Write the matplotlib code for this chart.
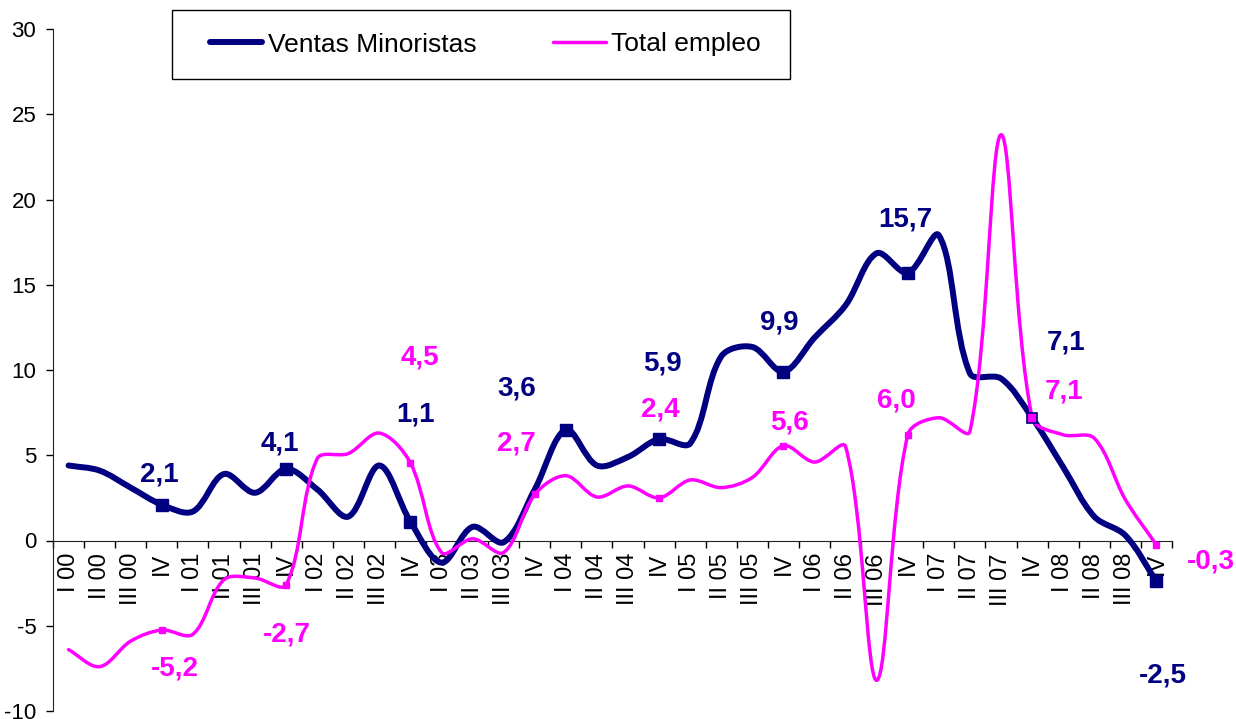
import numpy as np
import matplotlib
matplotlib.use("Agg")
import matplotlib.pyplot as plt
from matplotlib.path import Path
from matplotlib.patches import PathPatch, Rectangle
from matplotlib.lines import Line2D

plt.rcParams['font.family'] = ['Liberation Sans', 'DejaVu Sans']
plt.rcParams['axes.unicode_minus'] = False

# categorias trimestrales I 00 ... IV 08
years = ['00', '01', '02', '03', '04', '05', '06', '07', '08']
quarters = []
for yy in years:
    quarters += ['I ' + yy, 'II ' + yy, 'III ' + yy, 'IV']

ventas = [4.4, 4.1, 3.1, 2.1, 1.7, 3.9, 2.8, 4.2, 3.0, 1.4, 4.4, 1.1,
          -1.3, 0.8, -0.1, 3.0, 6.5, 4.4, 4.9, 5.95, 5.7, 10.8, 11.35, 9.9,
          11.9, 13.8, 16.85, 15.7, 17.9, 9.8, 9.5, 7.2, 4.3, 1.4, 0.3, -2.4]
empleo = [-6.4, -7.4, -5.9, -5.25, -5.5, -2.3, -2.2, -2.6, 4.8, 5.1, 6.3, 4.55,
          -0.7, 0.1, -0.7, 2.7, 3.8, 2.55, 3.2, 2.5, 3.55, 3.1, 3.7, 5.56,
          4.6, 5.5, -8.2, 6.2, 7.2, 6.4, 23.8, 7.2, 6.2, 6.0, 2.4, -0.26]

# etiquetas de datos (cuartos trimestres)
label_idx = [3, 7, 11, 15, 19, 23, 27, 31, 35]
ventas_txt = ['2,1', '4,1', '1,1', '3,6', '5,9', '9,9', '15,7', '7,1', '-2,5']
empleo_txt = ['-5,2', '-2,7', '4,5', '2,7', '2,4', '5,6', '6,0', '7,1', '-0,3']
ventas_mark = [3, 7, 11, 16, 19, 23, 27, 35]
empleo_mark = [3, 7, 11, 15, 19, 23, 27, 35]

# desplazamientos de las etiquetas en pixeles (x, y)
ventas_off = [(-2, 30), (-6, 25), (5, 107), (-18, 101), (3, 76), (-4, 49),
              (-2, 53), (34, 75), (6, -94)]
empleo_off = [(13, -38), (1, -50), (9, 105), (-18, 51), (1, 88), (6, 23),
              (-11, 34), (32, 26), (54, -17)]

NAVY = '#000080'
MAG = '#FF00FF'

fig = plt.figure(figsize=(12.36, 7.19), dpi=100)
ax = fig.add_axes([53/1236, 8/719, (1172-53)/1236, 682/719])
ax.set_xlim(-0.5, 35.5)
ax.set_ylim(-10, 30)


def smooth_path(ax, y):
    '''
    curva suavizada tipo Excel (bezier) en coordenadas de pantalla
    '''
    x = np.arange(len(y))
    pts = ax.transData.transform(np.column_stack([x, y]))
    n = len(pts)
    verts = [pts[0]]
    codes = [Path.MOVETO]
    for i in range(n - 1):
        p0 = pts[max(i - 1, 0)]
        p1 = pts[i]
        p2 = pts[i + 1]
        p3 = pts[min(i + 2, n - 1)]
        d01 = np.hypot(*(p1 - p0))
        d12 = np.hypot(*(p2 - p1))
        d23 = np.hypot(*(p3 - p2))
        c1 = p1 + (p2 - p0) * d12 / (d01 + d12) / 3
        c2 = p2 - (p3 - p1) * d12 / (d12 + d23) / 3
        verts += [c1, c2, p2]
        codes += [Path.CURVE4] * 3
    verts = ax.transData.inverted().transform(np.array(verts))
    return Path(verts, codes)


ax.add_patch(PathPatch(smooth_path(ax, ventas), facecolor='none', edgecolor=NAVY,
                       lw=4.3, capstyle='round', joinstyle='round', zorder=3))
ax.plot(ventas_mark, [ventas[i] for i in ventas_mark], 's', color=NAVY, ms=8, zorder=4)

ax.add_patch(PathPatch(smooth_path(ax, empleo), facecolor='none', edgecolor=MAG,
                       lw=2.5, capstyle='round', joinstyle='round', zorder=5))
ax.plot(empleo_mark, [empleo[i] for i in empleo_mark], 's', color=MAG, ms=5, zorder=6)
ax.plot([31], [empleo[31]], 's', mfc=MAG, mec=NAVY, mew=1.2, ms=7, zorder=7)

for i, t, off in zip(label_idx, ventas_txt, ventas_off):
    ax.annotate(t, (i, ventas[i]), xytext=off, textcoords='offset pixels',
                ha='center', va='center', fontsize=20, fontweight='bold', color=NAVY)
for i, t, off in zip(label_idx, empleo_txt, empleo_off):
    ax.annotate(t, (i, empleo[i]), xytext=off, textcoords='offset pixels',
                ha='center', va='center', fontsize=20, fontweight='bold', color=MAG)

# ejes
ax.spines['top'].set_visible(False)
ax.spines['right'].set_visible(False)
ax.spines['left'].set_color('#222222')
ax.spines['bottom'].set_color('#222222')
ax.spines['bottom'].set_position(('data', 0))
ax.set_xticks(np.arange(-0.5, 36, 1))
ax.set_xticklabels([])
ax.set_xticks(np.arange(36), minor=True)
ax.set_xticklabels(quarters, minor=True, rotation=90, fontsize=17)
ax.tick_params(axis='x', which='major', length=5, width=1, direction='out')
ax.tick_params(axis='x', which='minor', length=0, pad=9)
ax.set_yticks(range(-10, 31, 5))
ax.tick_params(axis='y', length=5, width=1, labelsize=16, pad=7)

# leyenda
fig.patches.append(Rectangle((172/1236, 1 - 79/719), 618/1236, 69/719, fill=False,
                             edgecolor='black', lw=1, transform=fig.transFigure))
handles = [Line2D([], [], color=NAVY, lw=4.3, solid_capstyle='round'),
           Line2D([], [], color=MAG, lw=2.5, solid_capstyle='round')]
fig.legend(handles, ['Ventas Minoristas', 'Total empleo'], ncol=2, frameon=False,
           loc='center', bbox_to_anchor=(485/1236, 1 - 44.5/719), fontsize=19,
           handlelength=2.0, handletextpad=0.2, columnspacing=2.9)

fig.savefig('out.png', dpi=100)
